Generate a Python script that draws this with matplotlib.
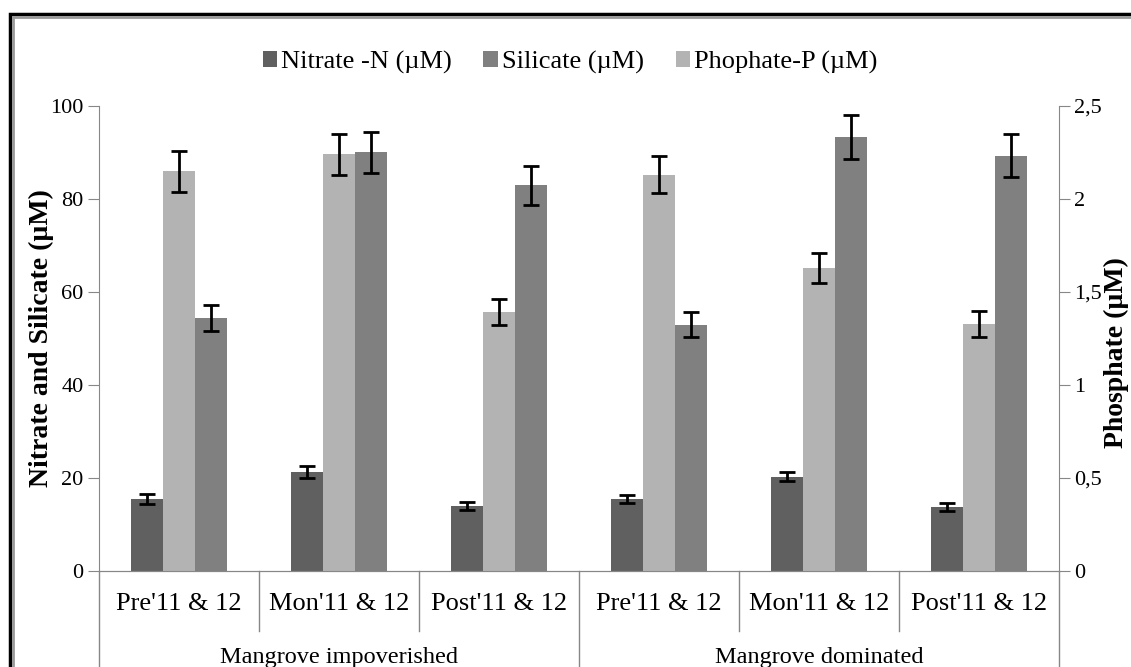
import matplotlib
matplotlib.use("Agg")
import matplotlib.pyplot as plt
from matplotlib.patches import Rectangle
import numpy as np

plt.rcParams['font.family'] = ['Liberation Serif', 'DejaVu Serif']

seasons = ["Pre'11 & 12", "Mon'11 & 12", "Post'11 & 12",
           "Pre'11 & 12", "Mon'11 & 12", "Post'11 & 12"]
zones = ["Mangrove impoverished", "Mangrove dominated"]

nitrate = [15.5, 21.3, 14.0, 15.5, 20.3, 13.8]
nitrate_err = [1.0, 1.2, 0.8, 0.8, 1.0, 0.8]
silicate = [54.5, 90.0, 83.0, 53.0, 93.3, 89.3]
silicate_err = [2.8, 4.5, 4.2, 2.7, 4.7, 4.6]
phosphate = [2.15, 2.24, 1.39, 2.13, 1.63, 1.33]
phosphate_err = [0.11, 0.11, 0.07, 0.10, 0.08, 0.07]

c_nit, c_sil, c_pho = "#606060", "#808080", "#b3b3b3"
axis_col = "#878787"

fig = plt.figure(figsize=(11.31, 6.67), dpi=100)
ax = fig.add_axes([99 / 1131, 1 - 571 / 667, 960 / 1131, 465 / 667])
ax2 = ax.twinx()

x = np.arange(len(seasons))
w = 0.2
ek = dict(ecolor="black", elinewidth=2, capsize=6, capthick=2)
ax.bar(x - w, nitrate, w, color=c_nit, yerr=nitrate_err, error_kw=ek, label="Nitrate -N (µM)")
ax.bar(x + w, silicate, w, color=c_sil, yerr=silicate_err, error_kw=ek, label="Silicate (µM)")
ax2.bar(x, phosphate, w, color=c_pho, yerr=phosphate_err, error_kw=ek, label="Phophate-P (µM)")

ax.set_xlim(-0.5, len(seasons) - 0.5)
ax.set_ylim(0, 100)
ax2.set_ylim(0, 2.5)
ax.set_yticks([0, 20, 40, 60, 80, 100])
ax2.set_yticks([0, 0.5, 1, 1.5, 2, 2.5])
ax2.set_yticklabels(["0", "0,5", "1", "1,5", "2", "2,5"])

for a in (ax, ax2):
    for s in a.spines.values():
        s.set_color(axis_col)
    a.spines["top"].set_visible(False)
    a.tick_params(axis="y", length=8, color=axis_col, labelsize=16, pad=3)
ax.spines["right"].set_visible(False)
ax2.spines["left"].set_visible(False)

ax.set_xticks([])
ax2.set_xticks([])
ax.set_ylabel("Nitrate and Silicate (µM)", fontsize=20, fontweight="bold")
ax2.set_ylabel("Phosphate (µM)", fontsize=20, fontweight="bold", rotation=90)
ax.yaxis.set_label_coords(-0.047, 0.5)
ax2.yaxis.set_label_coords(1.047, 0.47)

# category labels and divider lines below the axis
trans = ax.get_xaxis_transform()
for i, s in enumerate(seasons):
    ax.text(i, -0.07, s, transform=trans, ha="center", va="center", fontsize=19)
for i in range(len(seasons) + 1):
    b = i - 0.5
    low = -0.25 if i % 3 == 0 else -0.13
    ax.plot([b, b], [0, low], transform=trans, color=axis_col, lw=1, clip_on=False)
for j, z in enumerate(zones):
    ax.text(3 * j + 1, -0.185, z, transform=trans, ha="center", va="center", fontsize=17.5)

# legend
h1, l1 = ax.get_legend_handles_labels()
h2, l2 = ax2.get_legend_handles_labels()
fig.legend([h1[0], h1[1], h2[0]], [l1[0], l1[1], l2[0]], loc="center",
           bbox_to_anchor=(570 / 1131, 1 - 62 / 667), ncol=3, frameon=False,
           fontsize=19, handlelength=0.55, handleheight=0.55, handletextpad=0.15,
           columnspacing=1.2)

# outer frame
fig.patches.append(Rectangle((10 / 1131, -0.1), 1.2, 1 - 14 / 667 + 0.1,
                             transform=fig.transFigure, fill=False,
                             edgecolor="black", lw=2.5))
fig.patches.append(Rectangle((13 / 1131, -0.1), 1.2, 1 - 17 / 667 + 0.1,
                             transform=fig.transFigure, fill=False,
                             edgecolor="#999999", lw=2))

fig.savefig("out.png", dpi=100)
